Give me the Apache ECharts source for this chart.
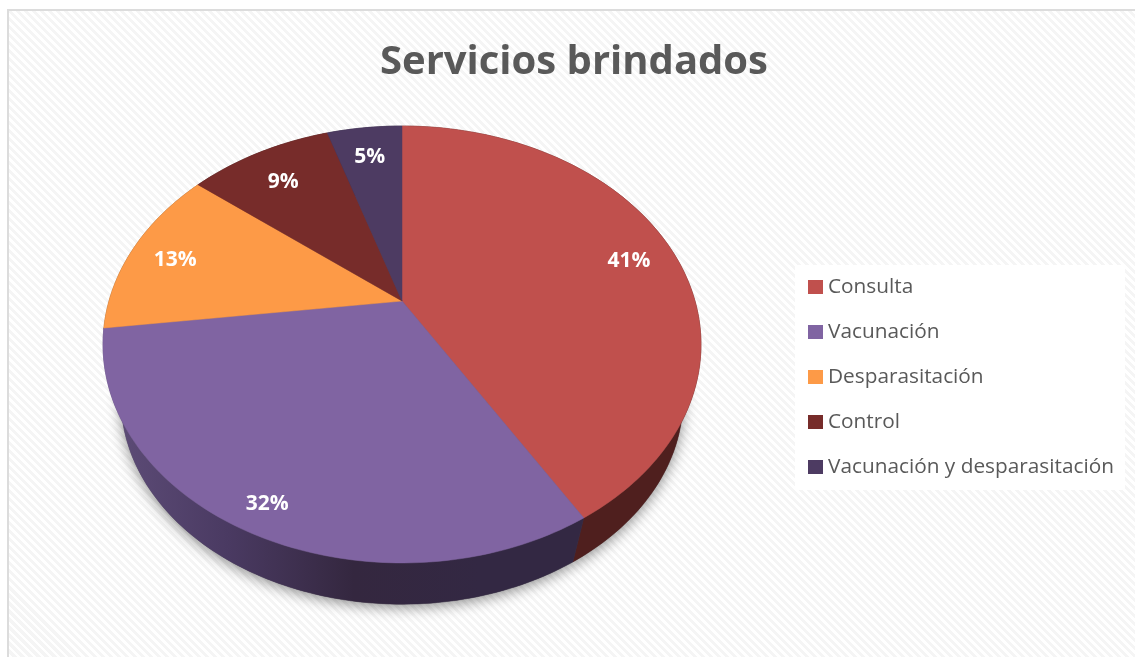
<!DOCTYPE html>
<html>
<head>
<meta charset="utf-8">
<style type="text/css">
    html,body{ margin:0; padding:0; background:#fff; overflow:hidden; }
    #hatch{
        position:absolute; left:7px; top:9px; width:1128px; height:648px;
        box-sizing:border-box;
        border-left:2px solid #dcdcdc; border-top:2px solid #dcdcdc;
        background:repeating-linear-gradient(45deg,#fff 0,#fff 2.8px,#f5f5f5 2.8px,#f5f5f5 5.66px);
    }
    #chartsbox{ position:absolute; left:0; top:0; width:1135px; height:657px; }
</style>
<script type="text/javascript" src="https://cdn.jsdelivr.net/npm/echarts@6/dist/echarts.min.js"></script>
</head>
<body>
<div id="hatch"></div>
<div id="chartsbox"></div>
<script type="text/javascript">
    var chartTitle = 'Servicios brindados';
    var aCategories = ['Consulta', 'Vacunación', 'Desparasitación', 'Control', 'Vacunación y desparasitación'];
    // percentages estimated from the slice edges, the labels show them rounded
    var aValues = [41.4, 31.6, 12.7, 9.4, 4.9];
    var aColors = ['#c0504d', '#8064a2', '#fd9a47', '#772c2a', '#4d3b62'];

    // pie tilted in perspective: centre of the disc lands above the centre of the ellipse
    var apexX = 402, apexY = 301, scaleX = 293, scaleY = 209.8, tilt = -0.199;
    var wallScale = 0.94, wallDrop = 57;
    var total = aValues.reduce(function (a, b) { return a + b; }, 0);

    function project(angle, r) {
        var u = Math.sin(angle) * r, v = -Math.cos(angle) * r;
        var w = 1 + tilt * v;
        return [scaleX * u / w, scaleY * v / w];
    }
    function rim(start, end, scale, dy) {
        var pts = [], steps = Math.max(4, Math.ceil((end - start) * 50));
        for (var i = 0; i <= steps; i++) {
            var p = project(start + (end - start) * i / steps, 1);
            pts.push([apexX + p[0] * scale, apexY + p[1] * scale + dy]);
        }
        return pts;
    }
    function wallFill(i) {
        if (i === 1) {
            return {
                type: 'linear', global: true, x: 120, y: 0, x2: 480, y2: 0,
                colorStops: [
                    {offset: 0, color: '#5c4b76'},
                    {offset: 0.3, color: '#4a3a62'},
                    {offset: 0.65, color: '#34273f'},
                    {offset: 1, color: '#332843'}
                ]
            };
        }
        return ['#4f1f1e', '', '#8a5427', '#431918', '#2b2138'][i];
    }

    function renderSlice(params, api) {
        var i = params.seriesIndex;
        var before = 0;
        for (var k = 0; k < i; k++) { before += aValues[k]; }
        var start = before / total * Math.PI * 2;
        var end = start + api.value(0) / total * Math.PI * 2;

        var top = rim(start, end, 1, 0);
        var bottom = rim(start, end, wallScale, wallDrop);
        var mid = (start + end) / 2;
        var lp = project(mid, i === 1 ? 0.885 : (i === 3 ? 0.81 : 0.84));

        return {
            type: 'group',
            children: [
                {
                    type: 'polygon', z2: 0, silent: true,
                    shape: {points: [[apexX, apexY + wallDrop]].concat(bottom)},
                    style: {fill: '#555', shadowColor: 'rgba(0,0,0,0.45)', shadowBlur: 14, shadowOffsetY: 3}
                },
                {
                    type: 'polygon', z2: 1, silent: true,
                    shape: {points: top.concat(bottom.slice().reverse())},
                    style: {fill: wallFill(i), stroke: wallFill(i), lineWidth: 0.5}
                },
                {
                    type: 'polygon', z2: 2 + i, silent: true,
                    shape: {points: [[apexX, apexY]].concat(top)},
                    style: {fill: aColors[i], stroke: aColors[i], lineWidth: 0.5}
                },
                {
                    type: 'text', z2: 20, silent: true,
                    style: {
                        x: apexX + lp[0], y: apexY + lp[1] + 5,
                        text: Math.round(api.value(0) / total * 100) + '%',
                        fill: '#fff', align: 'center', verticalAlign: 'middle',
                        font: 'bold 21px "Open Sans"'
                    }
                }
            ]
        };
    }

    var aSeries = [];
    for (var n = 0; n < aCategories.length; n++) {
        aSeries.push({
            name: aCategories[n],
            type: 'custom',
            coordinateSystem: 'none',
            itemStyle: {color: aColors[n]},
            renderItem: renderSlice,
            data: [[aValues[n]]]
        });
    }

    var myChart = echarts.init(document.getElementById('chartsbox'));
    var option = {
        animation: false,
        backgroundColor: 'transparent',
        title: {
            text: chartTitle,
            left: 569, top: 38, textAlign: 'center',
            textStyle: {color: '#595959', fontFamily: 'Open Sans', fontWeight: 'bold', fontSize: 40}
        },
        legend: {
            orient: 'vertical',
            left: 795, top: 265,
            padding: [11, 11, 12, 13],
            backgroundColor: '#fff',
            icon: 'rect',
            itemWidth: 15, itemHeight: 14, itemGap: 23,
            selectedMode: false,
            data: aCategories,
            textStyle: {color: '#595959', fontFamily: 'Open Sans', fontSize: 20.8, height: 22, lineHeight: 22}
        },
        series: aSeries
    };
    myChart.setOption(option);
</script>
</body>
</html>
